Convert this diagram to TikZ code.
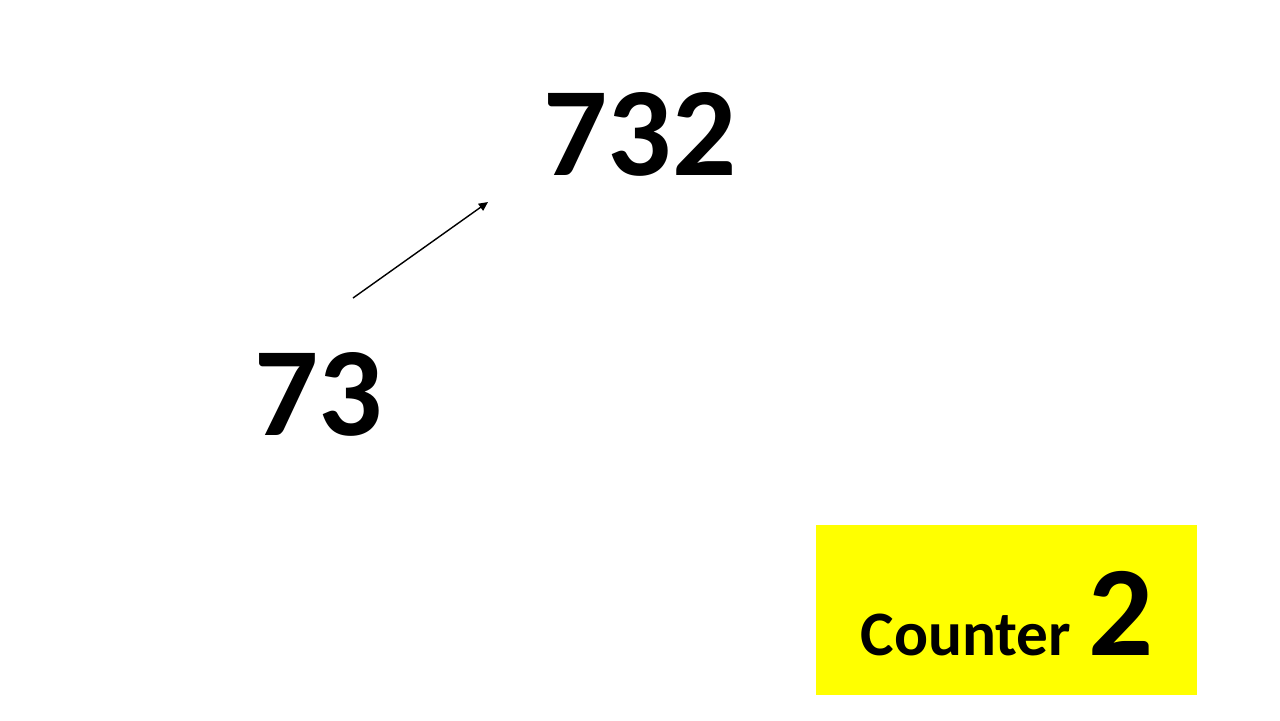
\documentclass[tikz,border=0pt]{standalone}
\usepackage{fontspec}
\setmainfont{Carlito}
\usetikzlibrary{arrows.meta}
\definecolor{boxyellow}{RGB}{255,255,0}
\tikzset{
  num/.style={inner sep=0pt, anchor=base, font=\fontsize{36}{43}\selectfont\bfseries},
}
\begin{document}
\begin{tikzpicture}[x=0.01cm, y=-0.01cm]
      \useasboundingbox (0,0) rectangle (1280,720);
      \node[num] (n732) at (640,175) {732};
      \node[num] (n73) at (318.5,435) {73};
      \node[fill=boxyellow, inner sep=0pt, minimum width=3.81cm, minimum height=1.70cm] (box) at (1006.5,610) {};
      \node[inner sep=0pt, anchor=base west, font=\bfseries] (counter) at (860,655)
        {{\fontsize{18}{22}\selectfont Counter}\hspace{5pt}{\fontsize{36.5}{44}\selectfont 2}};
      \coordinate (from) at (353,298);
      \coordinate (to) at (488,202);
      \draw[line width=0.4pt, -{Triangle[length=2.6pt, width=2.4pt]}] (from) -- (to);
    \end{tikzpicture}
\end{document}
